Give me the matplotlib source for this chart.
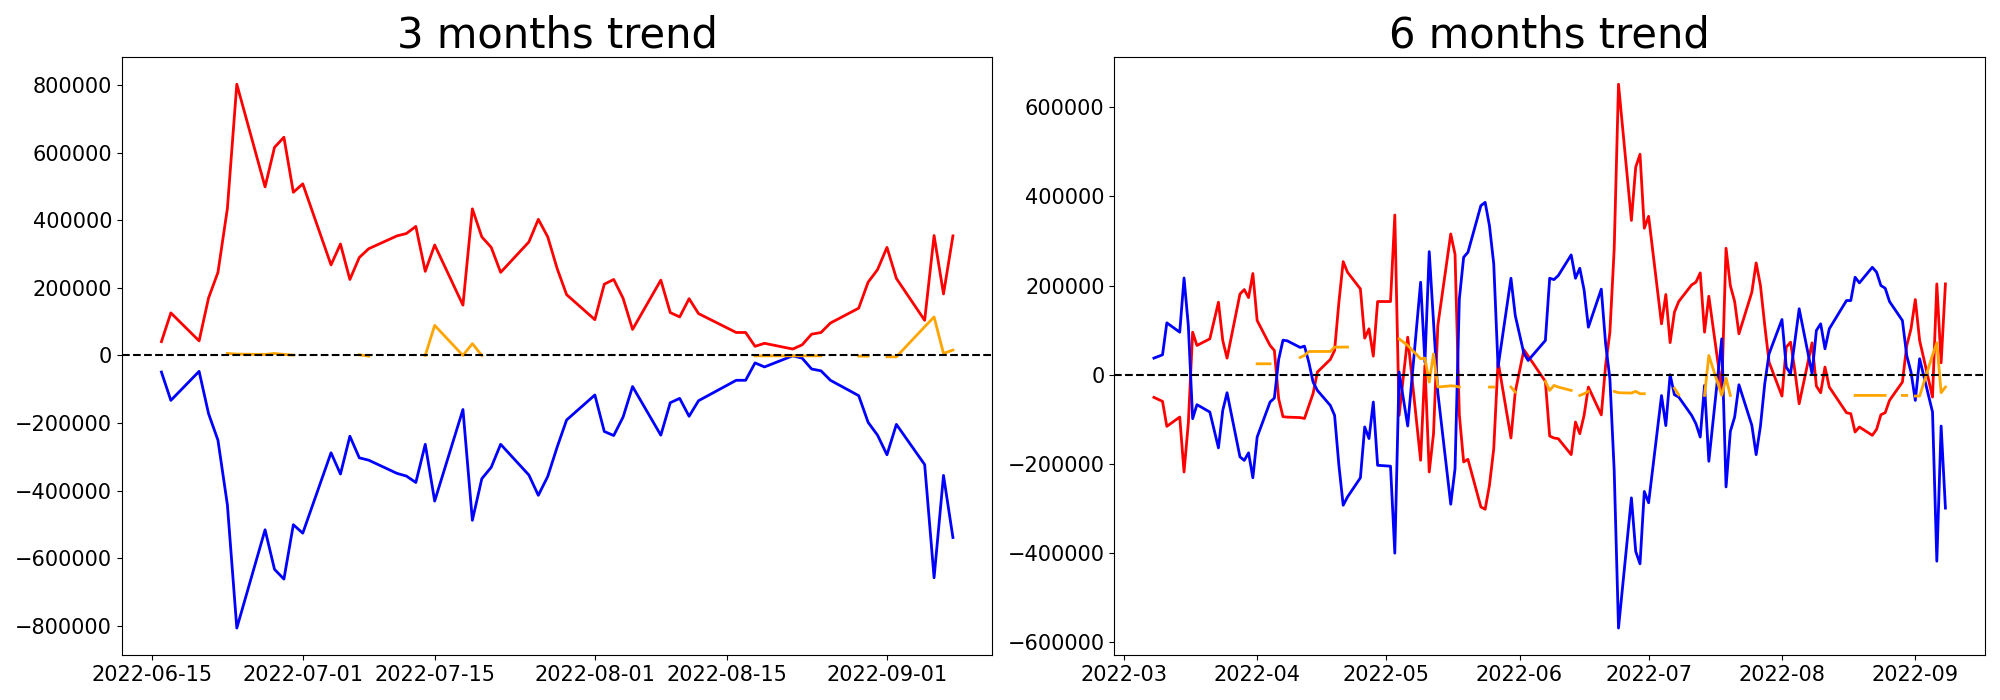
import numpy as np
import pandas as pd
import matplotlib
matplotlib.use("Agg")
import matplotlib.pyplot as plt

nan = np.nan

# trading days (Korean market holidays removed)
holidays = ["2022-03-09", "2022-05-05", "2022-06-01", "2022-06-06", "2022-08-15"]
dates_3m = pd.bdate_range("2022-06-16", "2022-09-08", freq="C", holidays=holidays)
dates_6m = pd.bdate_range("2022-03-08", "2022-09-08", freq="C", holidays=holidays)

# ---- 3 months ----
red_3m = [
    40800, 126000, 43200, 170000, 246000, 435000, 803000, 499000, 616000, 646000, 483000,
    508000, 268000, 330000, 225000, 290000, 316000, 354000, 361000, 382000, 249000, 327000,
    149000, 434000, 351000, 320000, 246000, 336000, 403000, 351000, 257000, 180000,
    106000, 211000, 225000, 169000, 77000, 223000, 127000, 114000, 168000, 124000,
    68000, 68000, 27000, 36000, 19000, 31500, 63000, 68000, 96000, 140000, 217000, 254000,
    320000, 228000, 104000, 355000, 182000, 354000,
]
blue_3m = [
    -49000, -133000, -47000, -172000, -251000, -442000, -807000, -516000, -633000, -662000, -501000,
    -526000, -288000, -351000, -239000, -303000, -310000, -349000, -357000, -376000, -263000, -431000,
    -160000, -488000, -365000, -331000, -263000, -354000, -414000, -358000, -271000, -191000,
    -117000, -225000, -237000, -182000, -92000, -236000, -140000, -127000, -180000, -134000,
    -73500, -73500, -22000, -34000, -1000, -8000, -40000, -45500, -73500, -119000, -198000, -236000,
    -294000, -204000, -323000, -658000, -355000, -539000,
]
orange_3m = [
    nan, nan, nan, nan, nan, 6000, 4000, 3000, 6000, 3000, 1000,
    nan, nan, nan, nan, 2000, -2000, nan, nan, nan, 0, 89000,
    0, 35000, 0, nan, nan, nan, nan, nan, nan, nan,
    nan, nan, nan, nan, nan, nan, nan, nan, nan, nan,
    nan, nan, -1000, -1000, -1000, -1000, -1000, -1000, nan, -2000, -2000, nan,
    -4000, -4000, 85000, 114000, 6000, 16000,
]

# ---- 6 months ----
red_6m = [
    # Mar
    -50700, -59700, -115700, -94800, -218000, -108000, 95500, 65700, 80600, 121600, 162700,
    76900, 37300, 181000, 191000, 173000, 227000,
    # Apr
    121600, 65700, 54500, -53700, -94000, -95000, -96000, -98000, -70000, -42000, 6000,
    34300, 54500, 162700, 253700, 229900, 192500, 82100, 103000, 41800, 164200,
    # May
    164200, 358200, -91000, 84300, -191800, 20900, -218000, -132100, 110500,
    315700, 270000, -90000, -195500, -189600, -296300, -301500, -247800, -165700, 30000,
    -141800, -38800,
    # Jun
    56000, 42000, -15000, -137300, -141800, -143300, -179100, -106000, -132100, -91000, -27600,
    -90000, 20900, 95500, 282000, 651500, 346000, 465500, 494400, 328600,
    # Jul
    355300, 114100, 180000, 72000, 140300, 164200, 201500, 207500, 228400, 95500, 176100,
    -35000, 283600, 200000, 164200, 91800, 185100, 250800, 200000, 110500, 28400,
    # Aug
    -47800, 61900, 73100, 9000, -65000, 71600, -25400, -40300, 17200, -27600,
    -85100, -87300, -128400, -117200, -135800, -122400, -89600, -85100, -57500,
    -16400, 65000, 103000,
    # Sep
    168700, 76900, -50000, 203700, 26900, 203700,
]
blue_6m = [
    37300, 44800, 116400, 95500, 217000, 110000, -98500, -67000, -83600, -124000, -164000,
    -80000, -40300, -184000, -192000, -175000, -231000,
    -139600, -61200, -52200, 34300, 77600, 76100, 61200, 64200, 28400, -16400, -35100,
    -68700, -91000, -203000, -292500, -274000, -231000, -117000, -143000, -61200, -203000,
    -205000, -400000, 6000, -114900, 207500, 28000, 276100, 120000, -40000,
    -290300, -210500, 170000, 263400, 274600, 379100, 386600, 334300, 248500, 17200,
    216400, 132800,
    48000, 32000, 76900, 216400, 213400, 222400, 268700, 216400, 238800, 190000, 106700,
    192000, 70000, -9000, -215000, -568000, -276000, -396000, -424000, -261700,
    -287000, -46600, -114000, 0, -44800, -50000, -91000, -109700, -139600, -23900, -194000,
    80600, -251500, -126900, -94800, -22400, -113400, -179100, -115000, -20100, 47000,
    123900, 17200, 2200, 75000, 148000, 2200, 99300, 114200, 58200, 103000,
    166400, 166400, 218700, 206000, 241000, 229900, 200000, 194000, 164200,
    121600, 43300, 6000,
    -57500, 35800, -83600, -418000, -115000, -299000,
]
orange_6m = [
    nan, nan, nan, nan, nan, nan, nan, nan, nan, nan, nan,
    nan, nan, nan, nan, nan, nan,
    24600, 24600, nan, nan, nan, nan, 38800, 43300, 52200, 52200, 52200,
    52200, 62000, 62000, 62000, 62000, nan, nan, nan, nan, nan,
    nan, nan, 80600, 65700, 35800, 37300, -16400, 47000, -27600,
    -24800, -25400, -27600, nan, nan, nan, nan, -27600, -27600, nan,
    -27600, -38800,
    nan, nan, -14900, -35100, -23900, -27600, -35100, nan, -46300, -42500, -37300,
    nan, nan, nan, -37300, -40300, -41000, -37300, -42500, -42500,
    nan, nan, nan, nan, -30000, -45000, nan, nan, nan, -46300, 43300,
    -46300, -7500, -46300, nan, nan, nan, nan, nan, nan, nan,
    nan, nan, nan, nan, nan, nan, nan, nan, nan, nan,
    nan, nan, -46300, -46300, -46300, -46300, -46300, -46300, nan,
    -46300, -46300, nan,
    -47800, -47800, 44000, 71600, -40300, -27600,
]

fig, axes = plt.subplots(1, 2, figsize=(20, 7), dpi=100)

panels = [
    (axes[0], "3 months trend", dates_3m, red_3m, blue_3m, orange_3m),
    (axes[1], "6 months trend", dates_6m, red_6m, blue_6m, orange_6m),
]
for ax, title, dates, red, blue, orange in panels:
    ax.plot(dates, red, color="red", linewidth=2)
    ax.plot(dates, blue, color="blue", linewidth=2)
    ax.plot(dates, orange, color="orange", linewidth=2)
    ax.axhline(0, color="black", linestyle="--", linewidth=1.5)
    ax.set_title(title, fontsize=30)
    ax.tick_params(labelsize=15)

plt.tight_layout()
plt.savefig("out.png")
